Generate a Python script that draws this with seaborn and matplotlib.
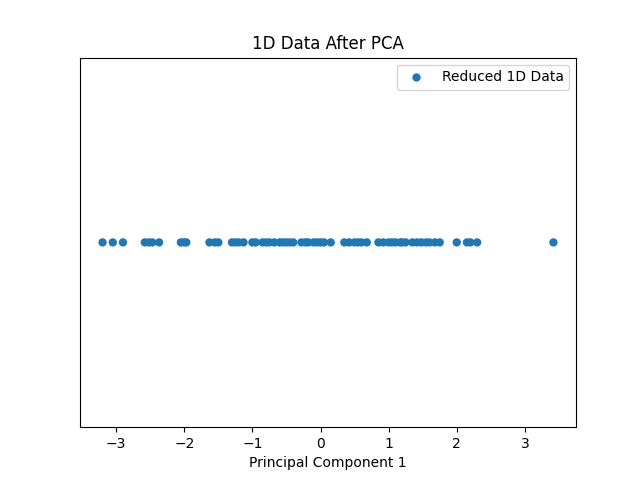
import matplotlib
matplotlib.use("Agg")
import matplotlib.pyplot as plt
import seaborn as sns
import numpy as np

pc1 = [-3.2, -3.05, -2.9, -2.58, -2.52, -2.47, -2.37, -2.05, -2.0, -1.97, -1.63, -1.55, -1.5,
       -1.3, -1.25, -1.2, -1.13, -1.0, -0.95, -0.85, -0.8, -0.75, -0.68, -0.6, -0.55, -0.5,
       -0.45, -0.4, -0.28, -0.22, -0.18, -0.1, -0.05, 0.0, 0.05, 0.15, 0.35, 0.42, 0.5, 0.55,
       0.6, 0.68, 0.85, 0.92, 1.0, 1.05, 1.1, 1.17, 1.2, 1.25, 1.35, 1.42, 1.48, 1.55, 1.6,
       1.68, 1.75, 2.0, 2.15, 2.2, 2.3, 3.42]
y = [0.0] * len(pc1)

fig, ax = plt.subplots(figsize=(6.4, 4.8), dpi=100)
sns.scatterplot(x=pc1, y=y, ax=ax, s=36, color="#1f77b4", edgecolor="none", label="Reduced 1D Data")
ax.set_ylim(-0.055, 0.055)
ax.set_yticks([])
ax.set_title("1D Data After PCA")
ax.set_xlabel("Principal Component 1")
ax.legend(loc="upper right")
fig.savefig("out.png")
